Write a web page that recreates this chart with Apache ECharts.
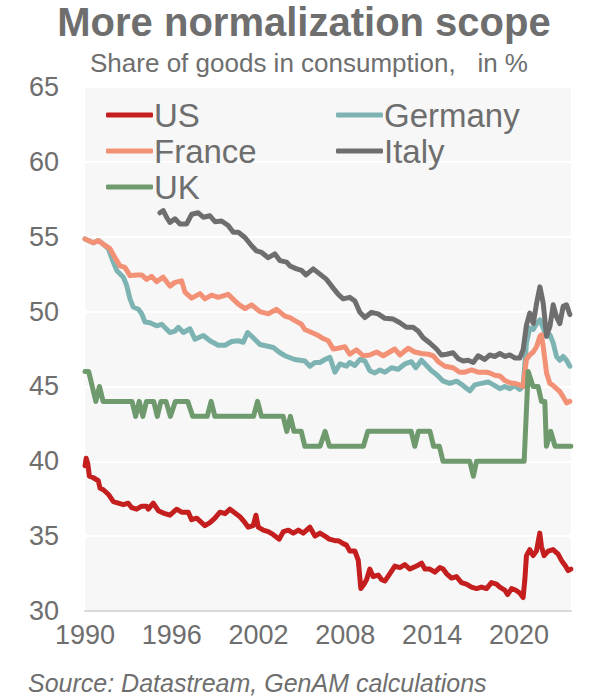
<!DOCTYPE html>
<html>
<head>
<meta charset="utf-8">
<script src="https://cdn.jsdelivr.net/npm/echarts@6/dist/echarts.min.js"></script>
<style>
  html, body { margin: 0; padding: 0; background: #fff; }
  #chart { width: 590px; height: 696px; }
</style>
</head>
<body>
<div id="chart"></div>
<script>
// readings are [decimal year, share of goods in %]
const usData = [[1990.00,39.7],[1990.08,40.2],[1990.20,39.8],[1990.30,39.0],[1990.58,38.9],[1990.92,38.7],[1991.04,38.2],[1991.27,38.1],[1991.61,37.8],[1991.96,37.3],[1992.30,37.2],[1992.65,37.1],[1992.99,37.2],[1993.23,36.9],[1993.57,36.8],[1993.92,37.0],[1994.26,37.0],[1994.38,36.8],[1994.72,37.2],[1995.07,36.7],[1995.53,36.5],[1995.87,36.4],[1996.34,36.8],[1996.68,36.6],[1997.14,36.6],[1997.37,36.1],[1997.72,36.2],[1997.95,36.0],[1998.29,35.7],[1998.64,35.9],[1998.98,36.2],[1999.33,36.6],[1999.68,36.5],[2000.02,36.8],[2000.30,36.6],[2000.71,36.3],[2001.06,35.9],[2001.29,35.6],[2001.63,35.7],[2001.82,36.4],[2001.98,35.6],[2002.33,35.4],[2002.67,35.3],[2003.02,35.1],[2003.43,34.8],[2003.71,35.3],[2004.06,35.4],[2004.40,35.2],[2004.75,35.4],[2005.09,35.2],[2005.55,35.6],[2005.90,35.0],[2006.24,35.2],[2006.59,35.0],[2006.89,34.8],[2007.28,34.7],[2007.51,34.7],[2007.85,34.5],[2008.08,34.4],[2008.31,34.0],[2008.66,34.0],[2008.89,33.4],[2009.07,31.5],[2009.30,31.8],[2009.47,32.1],[2009.69,32.8],[2009.92,32.3],[2010.27,32.4],[2010.50,32.1],[2010.73,32.0],[2011.08,32.5],[2011.42,33.0],[2011.77,32.9],[2012.11,33.1],[2012.46,32.8],[2012.69,32.9],[2012.92,33.0],[2013.27,33.2],[2013.50,32.8],[2013.84,32.8],[2014.19,32.6],[2014.53,32.9],[2014.76,32.8],[2014.99,32.5],[2015.34,32.2],[2015.68,32.3],[2016.03,31.9],[2016.37,31.8],[2016.72,31.6],[2017.07,31.5],[2017.41,31.6],[2017.76,31.5],[2018.10,31.9],[2018.45,31.8],[2018.68,31.6],[2019.02,31.4],[2019.21,31.1],[2019.49,31.5],[2019.76,31.4],[2020.06,31.2],[2020.29,30.9],[2020.41,32.1],[2020.52,33.7],[2020.75,34.1],[2020.98,33.7],[2021.21,34.0],[2021.44,35.2],[2021.56,34.3],[2021.74,33.7],[2022.02,34.0],[2022.36,34.1],[2022.71,33.8],[2022.99,33.3],[2023.22,33.0],[2023.40,32.7],[2023.59,32.8]]

const germanyData = [[1990.00,54.85],[1990.58,54.6],[1990.92,54.75],[1991.27,54.5],[1991.61,54.2],[1991.96,53.3],[1992.19,52.75],[1992.65,52.3],[1992.88,51.75],[1993.11,50.85],[1993.34,50.3],[1993.69,50.15],[1993.92,49.85],[1994.15,49.3],[1994.49,49.25],[1994.95,49.05],[1995.30,49.15],[1995.87,48.6],[1996.22,48.7],[1996.45,48.95],[1996.80,48.6],[1997.26,48.85],[1997.60,48.15],[1998.18,48.4],[1998.64,48.05],[1999.21,47.75],[1999.68,47.75],[2000.14,48.0],[2000.60,48.05],[2000.94,47.95],[2001.24,48.6],[2001.63,48.25],[2002.10,47.8],[2002.56,47.7],[2003.02,47.6],[2003.48,47.25],[2003.82,47.05],[2004.50,46.8],[2005.20,46.7],[2005.55,46.35],[2005.90,46.6],[2006.24,46.6],[2006.59,46.8],[2006.93,46.95],[2007.28,45.95],[2007.62,46.5],[2008.08,46.35],[2008.30,46.6],[2008.66,46.4],[2009.00,46.8],[2009.35,46.7],[2009.69,46.05],[2010.04,45.9],[2010.39,46.1],[2010.73,45.95],[2011.19,46.25],[2011.65,46.15],[2012.11,46.5],[2012.57,46.65],[2012.87,46.25],[2013.26,46.75],[2013.61,46.4],[2013.96,46.05],[2014.30,45.8],[2014.77,45.35],[2015.22,45.2],[2015.69,45.35],[2016.15,45.05],[2016.60,44.7],[2016.95,45.1],[2017.41,45.2],[2017.87,45.3],[2018.33,45.05],[2018.68,44.85],[2019.02,45.0],[2019.37,44.85],[2019.71,45.05],[2020.06,44.8],[2020.29,45.0],[2020.52,47.9],[2020.75,48.9],[2020.99,48.8],[2021.22,49.2],[2021.45,49.45],[2021.68,48.9],[2021.91,48.35],[2022.14,48.45],[2022.37,47.9],[2022.60,47.0],[2022.83,46.75],[2023.06,47.0],[2023.29,46.75],[2023.52,46.35]]

const franceData = [[1990.00,54.85],[1990.58,54.6],[1990.92,54.75],[1991.27,54.5],[1991.73,54.2],[1992.07,53.6],[1992.42,53.05],[1992.76,52.95],[1993.11,52.4],[1993.57,52.45],[1993.92,52.45],[1994.26,52.15],[1994.61,52.35],[1994.95,52.0],[1995.41,52.3],[1995.87,51.7],[1996.22,51.95],[1996.68,52.05],[1996.91,51.3],[1997.37,50.9],[1997.95,51.2],[1998.29,50.85],[1998.75,51.1],[1999.21,50.95],[1999.90,51.15],[2000.60,50.5],[2001.06,50.2],[2001.52,50.45],[2002.09,50.0],[2002.67,49.85],[2003.25,50.15],[2003.82,49.7],[2004.17,49.6],[2004.51,49.4],[2004.97,49.15],[2005.20,48.8],[2005.67,48.6],[2006.13,48.4],[2006.47,48.2],[2006.82,48.05],[2007.16,47.5],[2007.51,47.55],[2007.97,47.65],[2008.30,47.15],[2008.77,47.45],[2009.23,47.05],[2009.69,47.1],[2010.16,47.3],[2010.62,47.05],[2011.06,47.3],[2011.42,47.5],[2011.77,47.1],[2012.34,47.55],[2012.80,47.3],[2013.26,47.2],[2013.73,47.15],[2014.07,47.05],[2014.42,46.65],[2014.88,46.35],[2015.45,46.25],[2015.91,45.95],[2016.26,45.95],[2016.72,46.1],[2017.18,45.95],[2017.76,45.95],[2017.99,45.9],[2018.33,45.75],[2018.68,45.7],[2019.02,45.4],[2019.37,45.25],[2019.71,45.2],[2020.06,45.1],[2020.29,45.0],[2020.52,46.8],[2020.75,47.1],[2020.99,47.3],[2021.22,47.65],[2021.45,48.35],[2021.56,48.45],[2021.68,47.65],[2021.91,45.9],[2022.14,45.2],[2022.37,45.05],[2022.60,44.85],[2022.83,44.65],[2023.06,44.3],[2023.29,43.9],[2023.52,44.0]]

const italyData = [[1995.18,56.6],[1995.41,56.75],[1995.64,56.3],[1995.87,55.95],[1996.22,56.2],[1996.57,55.85],[1997.03,55.85],[1997.37,56.5],[1997.83,56.6],[1998.18,56.3],[1998.64,56.4],[1998.99,56.0],[1999.44,56.05],[1999.90,55.75],[2000.25,55.3],[2000.60,55.3],[2001.06,54.95],[2001.52,54.4],[2001.86,54.05],[2002.21,53.95],[2002.67,53.6],[2003.13,53.85],[2003.48,53.4],[2003.94,53.3],[2004.17,53.05],[2004.63,52.85],[2004.98,52.75],[2005.28,52.45],[2005.78,52.85],[2006.24,52.5],[2006.70,52.15],[2007.05,51.7],[2007.51,51.15],[2007.85,50.85],[2008.30,50.95],[2008.66,50.7],[2009.00,49.95],[2009.35,49.6],[2009.81,49.95],[2010.27,49.85],[2010.73,49.55],[2011.31,49.5],[2011.77,49.25],[2012.22,48.95],[2012.68,48.95],[2013.03,48.7],[2013.38,48.25],[2013.84,47.9],[2014.30,47.5],[2014.64,47.1],[2014.99,47.15],[2015.45,47.25],[2015.80,46.85],[2016.15,46.7],[2016.49,46.75],[2016.84,46.6],[2017.18,47.05],[2017.64,46.8],[2017.99,47.1],[2018.33,47.0],[2018.68,47.2],[2019.02,47.0],[2019.37,47.1],[2019.71,46.9],[2020.06,46.9],[2020.29,47.45],[2020.52,49.1],[2020.75,49.9],[2020.99,49.2],[2021.22,50.55],[2021.45,51.65],[2021.68,50.55],[2021.91,48.35],[2022.14,49.0],[2022.37,50.45],[2022.60,49.65],[2022.83,49.2],[2023.06,50.35],[2023.29,50.45],[2023.52,49.8]]

const ukData = [[1990.00,46],[1990.25,46],[1990.50,45],[1990.75,44],[1991.00,45],[1991.25,44],[1993.25,44],[1993.50,43],[1993.75,44],[1994.00,43],[1994.25,44],[1994.75,44],[1995.00,43],[1995.25,44],[1995.60,44],[1995.90,43],[1996.25,44],[1997.10,44],[1997.45,43],[1998.45,43],[1998.72,44],[1998.98,43],[2001.65,43],[2001.93,44],[2002.20,43],[2003.70,43],[2003.95,42],[2004.20,43],[2004.45,42],[2004.95,42],[2005.20,41],[2006.25,41],[2006.60,42],[2006.90,41],[2009.25,41],[2009.55,42],[2012.55,42],[2012.80,41],[2013.05,42],[2013.85,42],[2014.10,41],[2014.50,41],[2014.75,40],[2016.60,40],[2016.85,39],[2017.07,40],[2020.36,40],[2020.64,46],[2020.98,45],[2021.33,45],[2021.56,44],[2021.79,44],[2021.90,41],[2022.20,42],[2022.50,41],[2023.59,41]]

const seriesNames = ['US', 'Germany', 'France', 'Italy', 'UK']
const seriesColors = ['#c41e1e', '#7db4b3', '#f39176', '#6e6e6e', '#6f9a6e']
const seriesData = [usData, germanyData, franceData, italyData, ukData]
const yearStart = 1990
const textColor = '#6e6e6e'
const fontName = "Arial, 'Liberation Sans', sans-serif"

const myEcharts = echarts.init(document.getElementById('chart'), null, { renderer: 'svg' })
const option = {
  animation: false,
  backgroundColor: '#ffffff',
  textStyle: { fontFamily: fontName },
  graphic: [
    { type: 'text', x: 304, y: 22, style: { text: 'More normalization scope', font: 'bold 40px ' + fontName, fill: textColor, textAlign: 'center', textVerticalAlign: 'middle' } },
    { type: 'text', x: 309, y: 63, style: { text: 'Share of goods in consumption,   in %', font: '26px ' + fontName, fill: textColor, textAlign: 'center', textVerticalAlign: 'middle' } },
    { type: 'text', x: 28, y: 683, style: { text: 'Source: Datastream, GenAM calculations', font: 'italic 25px ' + fontName, fill: textColor, textAlign: 'left', textVerticalAlign: 'middle' } }
  ],
  legend: [
    { // 左列
      orient: 'vertical',
      left: 101,
      top: 92,
      itemGap: 0,
      itemWidth: 47,
      itemHeight: 5,
      icon: 'roundRect',
      data: ['US', 'France', 'UK'],
      textStyle: { fontSize: 33, color: textColor, lineHeight: 36, padding: [0, 0, 0, -4] }
    },
    { // 右列
      orient: 'vertical',
      left: 331,
      top: 92,
      itemGap: 0,
      itemWidth: 47,
      itemHeight: 5,
      icon: 'roundRect',
      data: ['Germany', 'Italy'],
      textStyle: { fontSize: 33, color: textColor, lineHeight: 36, padding: [0, 0, 0, -4] }
    }
  ],
  grid: {
    left: 85,
    right: 19,
    top: 87,
    bottom: 85,
    show: true,
    backgroundColor: '#f7f7f7',
    borderWidth: 0
  },
  xAxis: {
    type: 'value',
    min: 0,
    max: 33.6,
    interval: 6,
    axisLine: { show: true, lineStyle: { color: '#d9d9d9', width: 2 } },
    axisTick: { show: false },
    splitLine: { show: false },
    axisLabel: {
      color: textColor,
      fontSize: 27,
      margin: 10,
      showMaxLabel: false,
      formatter (v) { return String(yearStart + v) }
    }
  },
  yAxis: {
    type: 'value',
    min: 30,
    max: 65,
    interval: 5,
    axisLine: { show: false },
    axisTick: { show: false },
    splitLine: { show: true, lineStyle: { color: '#ffffff', width: 2 } },
    axisLabel: { color: textColor, fontSize: 27, margin: 26 }
  },
  series: seriesNames.map((name, i) => ({
    name,
    type: 'line',
    symbol: 'none',
    color: seriesColors[i],
    lineStyle: { width: 5, color: seriesColors[i], cap: 'round', join: 'round' },
    data: seriesData[i].map(p => [p[0] - yearStart, p[1]])
  }))
}
myEcharts.setOption(option)
</script>
</body>
</html>
